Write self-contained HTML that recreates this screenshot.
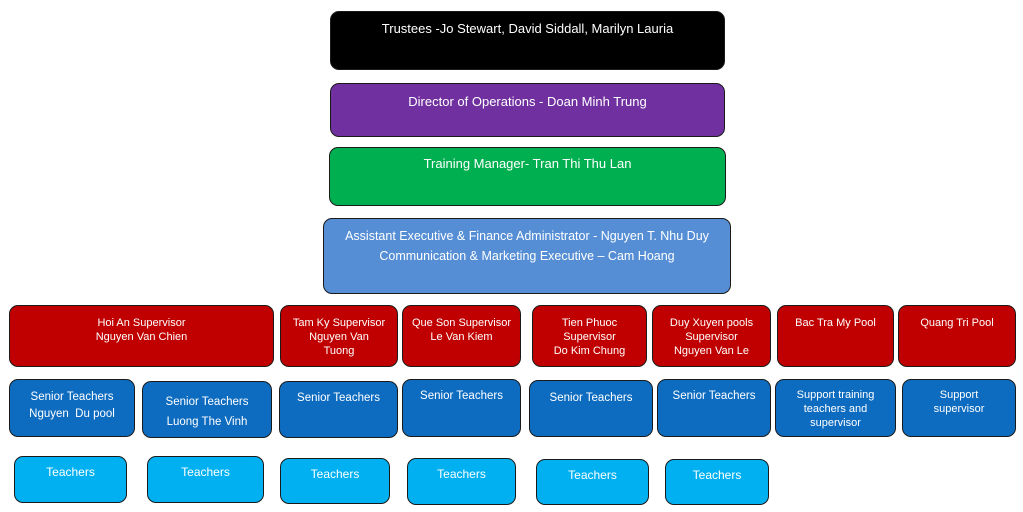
<!DOCTYPE html>
<html><head><style>
body{margin:0;width:1023px;height:512px;background:#fff;position:relative;overflow:hidden;font-family:"Liberation Sans",sans-serif;}
.b{position:absolute;box-sizing:border-box;border:1.5px solid #1a1a1a;border-radius:9px;color:#fff;text-align:center;font-size:11px;line-height:14px;}
.r{background:#c00000;padding-top:10px;}
.m{background:#0e6cc0;padding-top:11px;font-size:11.5px;line-height:17px;}
.t{background:#00b0f0;padding-top:8px;font-size:12px;}
</style></head><body>
<div class="b" style="left:330px;top:11px;width:395px;height:59px;background:#000;font-size:13px;padding-top:10px;">Trustees -Jo Stewart, David Siddall, Marilyn Lauria</div>
<div class="b" style="left:330px;top:83px;width:395px;height:54px;background:#7030a0;font-size:13px;padding-top:11px;">Director of Operations - Doan Minh Trung</div>
<div class="b" style="left:329px;top:147px;width:397px;height:59px;background:#00b050;font-size:13px;padding-top:9px;">Training Manager- Tran Thi Thu Lan</div>
<div class="b" style="left:323px;top:218px;width:408px;height:76px;background:#558ed5;font-size:12.5px;line-height:20px;padding-top:7px;">Assistant Executive &amp; Finance Administrator - Nguyen T. Nhu Duy<br>Communication &amp; Marketing Executive – Cam Hoang</div>

<div class="b r" style="left:9px;top:305px;width:265px;height:62px;">Hoi An Supervisor<br>Nguyen Van Chien</div>
<div class="b r" style="left:280px;top:305px;width:118px;height:62px;">Tam Ky Supervisor<br>Nguyen Van<br>Tuong</div>
<div class="b r" style="left:402px;top:305px;width:119px;height:62px;">Que Son Supervisor<br>Le Van Kiem</div>
<div class="b r" style="left:532px;top:305px;width:115px;height:62px;">Tien Phuoc<br>Supervisor<br>Do Kim Chung</div>
<div class="b r" style="left:652px;top:305px;width:119px;height:62px;">Duy Xuyen pools<br>Supervisor<br>Nguyen Van Le</div>
<div class="b r" style="left:777px;top:305px;width:117px;height:62px;">Bac Tra My Pool</div>
<div class="b r" style="left:898px;top:305px;width:118px;height:62px;">Quang Tri Pool</div>

<div class="b m" style="left:9px;top:379px;width:126px;height:58px;padding-top:9px;">Senior Teachers<br>Nguyen&nbsp; Du pool</div>
<div class="b m" style="left:142px;top:381px;width:130px;height:57px;padding-top:10px;line-height:20px;">Senior Teachers<br>Luong The Vinh</div>
<div class="b m" style="left:279px;top:381px;width:119px;height:57px;padding-top:8px;">Senior Teachers</div>
<div class="b m" style="left:402px;top:379px;width:119px;height:58px;padding-top:8px;">Senior Teachers</div>
<div class="b m" style="left:529px;top:380px;width:124px;height:57px;padding-top:9px;">Senior Teachers</div>
<div class="b m" style="left:657px;top:379px;width:114px;height:58px;padding-top:8px;">Senior Teachers</div>
<div class="b m" style="left:775px;top:379px;width:121px;height:58px;padding-top:8px;line-height:14px;font-size:11px;">Support training<br>teachers and<br>supervisor</div>
<div class="b m" style="left:902px;top:379px;width:114px;height:58px;padding-top:8px;line-height:14px;font-size:11px;">Support<br>supervisor</div>

<div class="b t" style="left:14px;top:456px;width:113px;height:47px;">Teachers</div>
<div class="b t" style="left:147px;top:456px;width:117px;height:47px;">Teachers</div>
<div class="b t" style="left:280px;top:458px;width:110px;height:46px;">Teachers</div>
<div class="b t" style="left:407px;top:458px;width:109px;height:47px;">Teachers</div>
<div class="b t" style="left:536px;top:459px;width:113px;height:46px;">Teachers</div>
<div class="b t" style="left:665px;top:459px;width:104px;height:46px;">Teachers</div>
</body></html>
